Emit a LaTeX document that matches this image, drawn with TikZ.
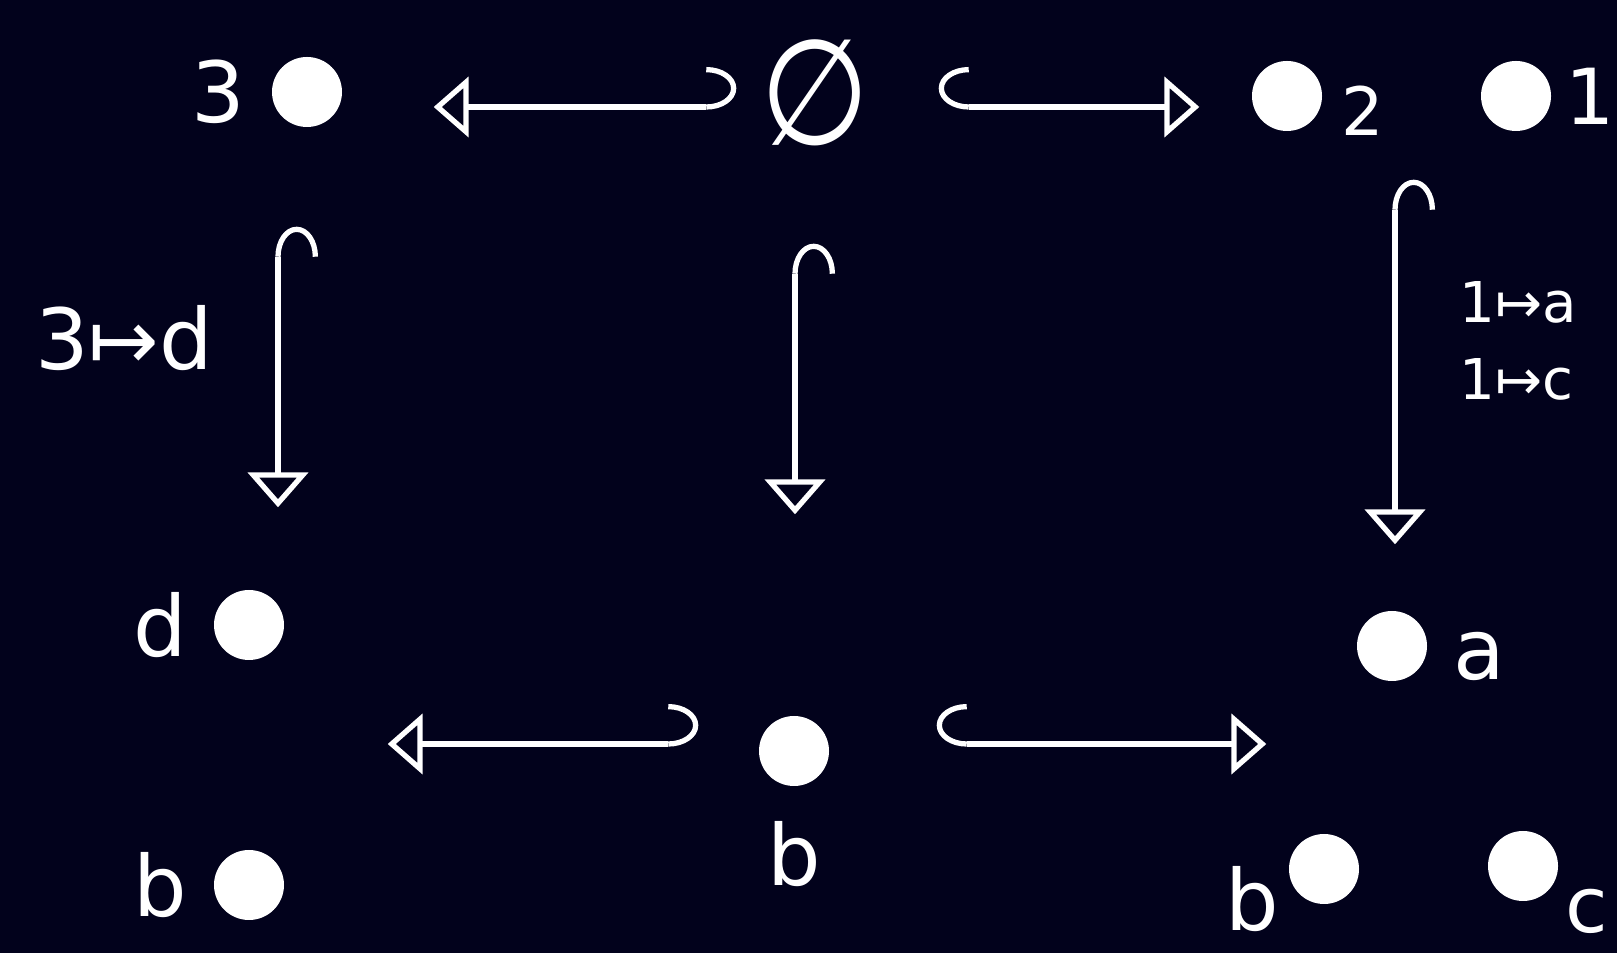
\documentclass[tikz,border=0pt]{standalone}
\usepackage{fontspec}
\setmainfont{DejaVu Sans}
\usetikzlibrary{positioning,arrows.meta}
\definecolor{BoardNavy}{HTML}{02021C}

\begin{document}
\begin{tikzpicture}[node distance=0.22cm,
  pt/.style={circle, fill=white, minimum size=0.7cm, inner sep=0pt},
  lbl/.style={text=white, inner sep=1pt, font=\fontsize{24}{26}\selectfont},
  maplbl/.style={text=white, inner sep=1pt, align=left, font=\fontsize{16}{22}\selectfont},
  setpt/.style={inner sep=0pt, minimum size=0pt},
  incl/.style={draw=white, line width=1.5pt, {Hooks[right,width=8mm,length=3mm]}-{Triangle[open,length=3.5mm,width=6mm]}},
  inclw/.style={draw=white, line width=1.5pt, {Hooks[left,width=8mm,length=3mm]}-{Triangle[open,length=3.5mm,width=6mm]}}]

  \useasboundingbox[fill=BoardNavy] (0,0) rectangle (16.17,9.53);

  % the sets
  \node[setpt] (S3) at (2.78,8.46) {};
  \node[setpt] (E) at (7.95,8.46) {};
  \node[setpt] (S12) at (13.95,8.46) {};
  \node[setpt] (Sbd) at (2.78,2.09) {};
  \node[setpt] (Sb) at (7.95,2.09) {};
  \node[setpt] (Sabc) at (13.95,2.09) {};

  % top row
  \node[pt] (p3) at (3.07,8.61) {};
  \node[lbl, left=of p3] (l3) {3};
  \node[text=white, font=\fontsize{42}{44}\selectfont, xscale=0.85] (empty) at (8.15,8.60) {∅};
  \node[pt] (p2) at (12.87,8.57) {};
  \node[lbl, font=\fontsize{19}{20}\selectfont, right=0.15cm of p2, yshift=-1.5mm] (l2) {2};
  \node[pt] (p1) at (15.16,8.57) {};
  \node[lbl, font=\fontsize{22}{24}\selectfont, right=0.1cm of p1] (l1) {1};

  % bottom row
  \node[pt] (pd) at (2.49,3.28) {};
  \node[lbl, left=of pd] (ld) {d};
  \node[pt] (pb) at (2.49,0.68) {};
  \node[lbl, left=of pb] (lb) {b};
  \node[pt] (pbm) at (7.94,2.02) {};
  \node[lbl, below=0.3cm of pbm] (lbm) {b};
  \node[pt] (pa) at (13.92,3.07) {};
  \node[lbl, right=of pa, yshift=-1mm] (la) {a};
  \node[pt] (pbr) at (13.24,0.84) {};
  \node[lbl, left=0.05cm of pbr, yshift=-3mm] (lbr) {b};
  \node[pt] (pc) at (15.23,0.87) {};
  \node[lbl, font=\fontsize{22}{24}\selectfont, right=0.03cm of pc, yshift=-4.5mm] (lc) {c};

  % maps
  \node[lbl] (m3) at (1.24,6.15) {3↦d};
  \node[maplbl] (m1) at (15.18,6.12) {1↦a\\1↦c};

  \draw[inclw, shorten <=5.8mm, shorten >=15.5mm] (E) -- (S3);
  \draw[incl, shorten <=14.3mm, shorten >=19.5mm] (E) -- (S12);
  \draw[incl, shorten <=11.9mm, shorten >=23.6mm] (S3) -- (Sbd);
  \draw[incl, shorten <=13.6mm, shorten >=22.9mm] (E) -- (Sb);
  \draw[incl, shorten <=7.2mm, shorten >=19.9mm] (S12) -- (Sabc);
  \draw[inclw, shorten <=9.6mm, shorten >=10.9mm] (Sb) -- (Sbd);
  \draw[incl, shorten <=14.1mm, shorten >=12.8mm] (Sb) -- (Sabc);
\end{tikzpicture}
\end{document}
